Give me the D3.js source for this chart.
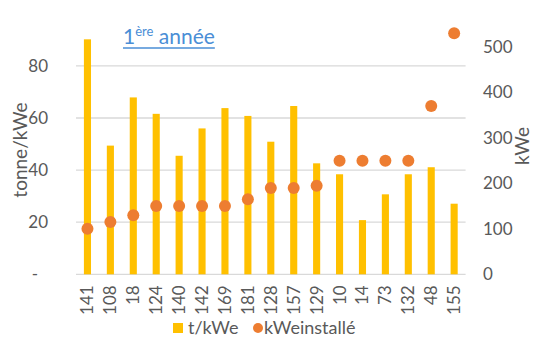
<!DOCTYPE html>
<html>
<head>
<meta charset="utf-8">
<script src="https://cdn.jsdelivr.net/npm/d3@7"></script>
<style>
  html, body { margin: 0; padding: 0; background: #fff; }
  svg { display: block; font-family: Lato, "Open Sans", sans-serif; }
</style>
</head>
<body>
<svg id="chart" width="540" height="346"></svg>
<script>
// Installation identifiers along the x axis
const categories = ["141","108","18","124","140","142","169","181","128","157","129","10","14","73","132","48","155"];
// Tonnes per kWe (bars, left axis)
const tonnesPerKwe = [90.2, 49.4, 67.9, 61.6, 45.5, 56.0, 63.8, 60.8, 50.9, 64.6, 42.6, 38.4, 20.8, 30.7, 38.4, 41.1, 27.1];
// Installed kWe (dots, right axis)
const kweInstalle = [100, 115, 130, 150, 150, 150, 150, 165, 190, 190, 195, 250, 250, 250, 250, 370, 530];
// Axis ticks
const leftTicks = [0, 20, 40, 60, 80];
const rightTicks = [0, 100, 200, 300, 400, 500];
const seriesNames = ["t/kWe", "kWeinstallé"];

const svg = d3.select("#chart");
const barColor = "#FFC000", dotColor = "#ED7D31", gridColor = "#D9D9D9", textColor = "#595959";
const tickFont = "17px";

const plotLeft = 76, plotRight = 465.6, baseY = 274.3;

const x = d3.scaleBand().domain(categories).range([plotLeft, plotRight]).paddingInner(0.69).paddingOuter(0.345);
const yL = d3.scaleLinear().domain([0, 100]).range([baseY, 13.8]);
const yR = d3.scaleLinear().domain([0, 500]).range([baseY, 47]);

// Gridlines (left axis)
svg.append("g").selectAll("line").data(leftTicks).join("line")
  .attr("x1", plotLeft).attr("x2", plotRight)
  .attr("y1", d => yL(d)).attr("y2", d => yL(d))
  .attr("stroke", gridColor).attr("stroke-width", 1.3);

// Bars
svg.append("g").selectAll("rect").data(categories).join("rect")
  .attr("x", d => x(d))
  .attr("width", x.bandwidth())
  .attr("y", (d, i) => yL(tonnesPerKwe[i]))
  .attr("height", (d, i) => baseY - yL(tonnesPerKwe[i]))
  .attr("fill", barColor);

// Dots
svg.append("g").selectAll("circle").data(categories).join("circle")
  .attr("cx", d => x(d) + x.bandwidth() / 2)
  .attr("cy", (d, i) => yR(kweInstalle[i]))
  .attr("r", 6)
  .attr("fill", dotColor);

// Left axis labels
const leftAxis = d3.axisLeft(yL).tickValues(leftTicks).tickSize(0).tickPadding(0)
  .tickFormat(d => d === 0 ? "-" : d);
const gl = svg.append("g").attr("transform", "translate(48,0)").call(leftAxis);
gl.select(".domain").remove();
gl.selectAll("text").attr("fill", textColor).style("font-size", tickFont).style("font-family", "Lato, sans-serif");
gl.selectAll("text").filter(d => d === 0).attr("dx", -10);

// Right axis labels
const rightAxis = d3.axisRight(yR).tickValues(rightTicks).tickSize(0).tickPadding(0);
const gr = svg.append("g").attr("transform", "translate(483,0)").call(rightAxis);
gr.select(".domain").remove();
gr.selectAll("text").attr("fill", textColor).style("font-size", tickFont).style("font-family", "Lato, sans-serif");

// Category labels (rotated)
const bottomAxis = d3.axisBottom(x).tickSize(0).tickPadding(0);
const gb = svg.append("g").attr("transform", `translate(0,${baseY})`).call(bottomAxis);
gb.select(".domain").remove();
gb.selectAll("text")
  .attr("fill", textColor).style("font-size", tickFont).style("font-family", "Lato, sans-serif")
  .attr("transform", "rotate(-90)")
  .attr("text-anchor", "end")
  .attr("x", -11).attr("y", 0).attr("dy", "0.35em");

// Axis titles
svg.append("text").attr("transform", "translate(27,150) rotate(-90)")
  .attr("text-anchor", "middle").attr("fill", textColor).style("font-size", "19px")
  .text("tonne/kWe");
svg.append("text").attr("transform", "translate(529,146) rotate(-90)")
  .attr("text-anchor", "middle").attr("fill", textColor).style("font-size", "19px")
  .text("kWe");

// Title with superscript, underlined
const title = svg.append("text").attr("x", 123).attr("y", 44)
  .attr("fill", "#4A8ED6").style("font-size", "21px");
title.append("tspan").text("1");
title.append("tspan").attr("dy", -8).style("font-size", "13px").text("ère");
title.append("tspan").attr("dy", 8).text(" année");
const tb = title.node().getBBox();
svg.append("line").attr("x1", tb.x).attr("x2", tb.x + tb.width)
  .attr("y1", 48).attr("y2", 48).attr("stroke", "#4A8ED6").attr("stroke-width", 1.5);

// Legend
const lg = svg.append("g").attr("transform", "translate(0,328)");
lg.append("rect").attr("x", 173).attr("y", -5).attr("width", 10).attr("height", 10).attr("fill", barColor);
lg.append("text").attr("x", 188).attr("y", 0).attr("dy", "0.35em").attr("fill", textColor)
  .style("font-size", "18px").text(seriesNames[0]);
lg.append("circle").attr("cx", 258).attr("cy", 0).attr("r", 5).attr("fill", dotColor);
lg.append("text").attr("x", 264).attr("y", 0).attr("dy", "0.35em").attr("fill", textColor)
  .style("font-size", "18px").text(seriesNames[1]);
</script>
</body>
</html>
